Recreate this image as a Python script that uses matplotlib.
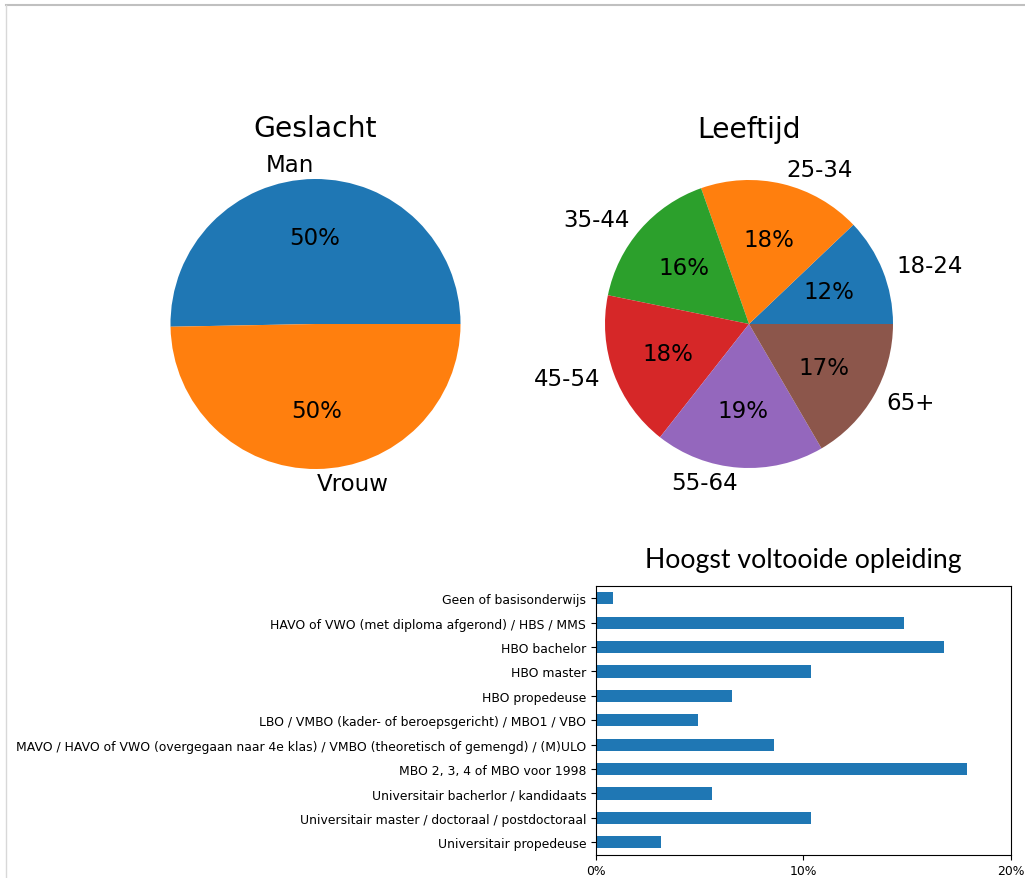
import matplotlib
matplotlib.use("Agg")
import matplotlib.pyplot as plt
from matplotlib.lines import Line2D
from matplotlib.ticker import FuncFormatter

W, H = 1025, 879

gender_labels = ["Man", "Vrouw"]
gender_values = [50.3, 49.7]

age_labels = ["18-24", "25-34", "35-44", "45-54", "55-64", "65+"]
age_values = [12.1, 18.3, 16.4, 17.6, 19.0, 16.6]

edu_labels = [
    "Geen of basisonderwijs",
    "HAVO of VWO (met diploma afgerond) / HBS / MMS",
    "HBO bachelor",
    "HBO master",
    "HBO propedeuse",
    "LBO / VMBO (kader- of beroepsgericht) / MBO1 / VBO",
    "MAVO / HAVO of VWO (overgegaan naar 4e klas) / VMBO (theoretisch of gemengd) / (M)ULO",
    "MBO 2, 3, 4 of MBO voor 1998",
    "Universitair bacherlor / kandidaats",
    "Universitair master / doctoraal / postdoctoraal",
    "Universitair propedeuse",
]
edu_values = [0.84, 14.86, 16.78, 10.35, 6.58, 4.94, 8.57, 17.88, 5.61, 10.35, 3.14]

colors = plt.rcParams['axes.prop_cycle'].by_key()['color']

fig = plt.figure(figsize=(W / 100, H / 100), dpi=100)

def pie_axes(cx, cy, r):
    side = 2.5 * r
    return fig.add_axes([(cx - side / 2) / W, 1 - (cy + side / 2) / H, side / W, side / H])

ax1 = pie_axes(315.5, 325, 145)
ax1.pie(gender_values, labels=gender_labels, autopct='%1.0f%%',
        textprops={'fontsize': 16.5})
ax1.set_title("Geslacht", fontsize=20.3, pad=5)

ax2 = pie_axes(749, 325, 144)
ax2.pie(age_values, labels=age_labels, autopct='%1.0f%%',
        textprops={'fontsize': 16.5})
ax2.set_title("Leeftijd", fontsize=20.3, pad=5)

l, r, t, b = 596, 1010.5, 587, 855.5
ax3 = fig.add_axes([l / W, 1 - b / H, (r - l) / W, (b - t) / H])
ypos = list(range(len(edu_labels)))
ax3.barh(ypos, edu_values, height=0.5, color=colors[0])
ax3.set_yticks(ypos)
ax3.set_yticklabels(edu_labels, fontsize=8.9)
ax3.set_ylim(len(edu_labels) - 0.5, -0.5)
ax3.set_xlim(0, 20)
ax3.set_xticks([0, 10, 20])
ax3.xaxis.set_major_formatter(FuncFormatter(lambda v, p: f"{v:.0f}%"))
ax3.tick_params(axis='x', labelsize=8.9)
ax3.set_title("Hoogst voltooide opleiding", fontsize=19.2, family="Lato", pad=14)

fig.add_artist(Line2D([6 / W, 1], [1 - 6 / H, 1 - 6 / H], color="#c0c0c0", lw=1.5))
fig.add_artist(Line2D([6 / W, 6 / W], [0, 1 - 6 / H], color="#d8d8d8", lw=1.0))

fig.savefig("out.png", dpi=100)
